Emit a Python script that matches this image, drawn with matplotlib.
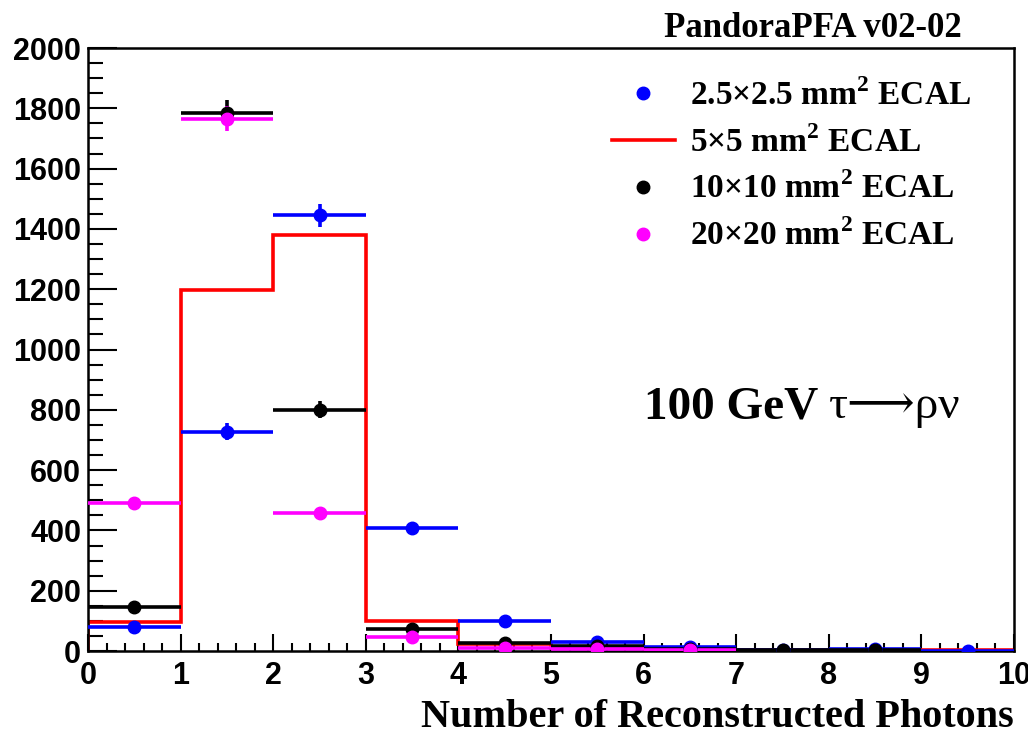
import matplotlib
matplotlib.use('Agg')
import matplotlib.pyplot as plt
from matplotlib.lines import Line2D
from matplotlib.ticker import MultipleLocator
import numpy as np

# Bin edges and contents
edges = np.arange(0, 11)
centres = edges[:-1] + 0.5
blue = [80, 728, 1446, 407, 100, 30, 15, 2, 6, 1]         # 2.5x2.5 mm2
red = [97, 1197, 1380, 100, 22, 10, 5, 3, 2, 5]           # 5x5 mm2
black = [147, 1785, 801, 73, 28, 16, 6, 3, 3, 0]          # 10x10 mm2
magenta = [490, 1766, 457, 45, 10, 7, 3, 0, 0, 0]         # 20x20 mm2

labels = ['2.5\u00d72.5 mm$^\\mathbf{2}$ ECAL', '5\u00d75 mm$^\\mathbf{2}$ ECAL',
          '10\u00d710 mm$^\\mathbf{2}$ ECAL', '20\u00d720 mm$^\\mathbf{2}$ ECAL']

serif = ['Liberation Serif', 'DejaVu Serif']
sans = ['Liberation Sans', 'DejaVu Sans']
plt.rcParams['mathtext.fontset'] = 'custom'
plt.rcParams['mathtext.rm'] = 'Liberation Serif'
plt.rcParams['mathtext.bf'] = 'Liberation Serif:bold'

fig = plt.figure(figsize=(10.28, 7.42), dpi=100)
ax = fig.add_axes([0.0856, 0.1226, 0.9008, 0.8127])

# red histogram as a step line
ax.stairs(red, edges, color='red', lw=2.6, zorder=2)

# points with errors, zero bins left out
for vals, col in [(blue, 'blue'), (black, 'black'), (magenta, 'magenta')]:
    v = np.array(vals, dtype=float)
    keep = v > 0
    ax.errorbar(centres[keep], v[keep], xerr=0.5, yerr=np.sqrt(v[keep]),
                fmt='o', color=col, ms=9, elinewidth=2.6, capsize=0, zorder=3)

ax.set_xlim(0, 10)
ax.set_ylim(0, 2000)
ax.xaxis.set_major_locator(MultipleLocator(1))
ax.xaxis.set_minor_locator(MultipleLocator(0.2))
ax.yaxis.set_major_locator(MultipleLocator(200))
ax.yaxis.set_minor_locator(MultipleLocator(50))
ax.tick_params(axis='y', which='major', direction='in', length=21, width=1.5, pad=5)
ax.tick_params(axis='y', which='minor', direction='in', length=11, width=1.5)
ax.tick_params(axis='x', which='major', direction='in', length=12, width=1.5, pad=7)
ax.tick_params(axis='x', which='minor', direction='in', length=6, width=1.5)
for lab in ax.get_xticklabels() + ax.get_yticklabels():
    lab.set_fontfamily(sans)
    lab.set_fontweight('bold')
    lab.set_fontsize(22)
for s in ax.spines.values():
    s.set_linewidth(1.8)

ax.set_xlabel('Number of Reconstructed Photons', loc='right', fontsize=29,
              fontweight='bold', family=serif, labelpad=6)

fig.text(0.936, 0.962, 'PandoraPFA v02-02', ha='right', va='center',
         fontsize=25, fontweight='bold', family=serif)

t = ax.text(0.6, 0.386, '100 GeV ', transform=ax.transAxes, fontsize=34,
            fontweight='bold', family=serif, ha='left', va='baseline')
ax.annotate('\u03c4\u27f6\u03c1\u03bd', xy=(1, 0), xycoords=t, fontsize=34,
            family=serif, ha='left', va='bottom')

handles = [Line2D([], [], marker='o', ls='', color='blue', ms=9),
           Line2D([], [], color='red', lw=2.6),
           Line2D([], [], marker='o', ls='', color='black', ms=9),
           Line2D([], [], marker='o', ls='', color='magenta', ms=9)]
fig.legend(handles, labels, loc='upper left', bbox_to_anchor=(0.595, 0.893),
           frameon=False, borderpad=0, borderaxespad=0, handlelength=1.9,
           handletextpad=0.45, labelspacing=0.42,
           prop={'family': serif, 'weight': 'bold', 'size': 24})

fig.savefig('out.png', dpi=100)
